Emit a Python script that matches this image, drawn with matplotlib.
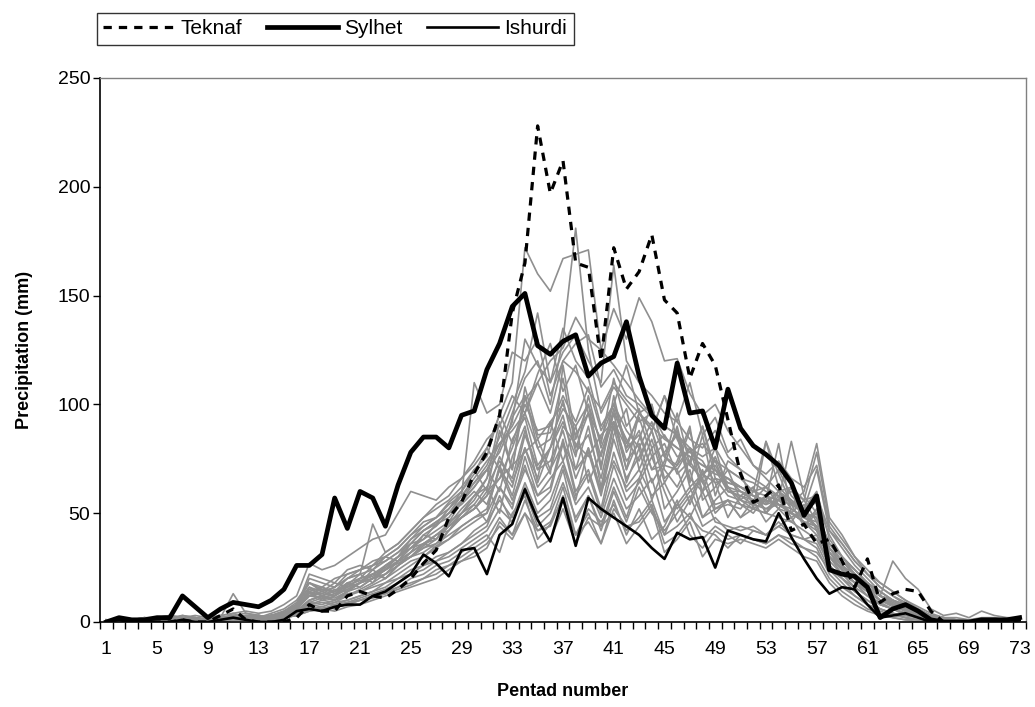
import matplotlib
matplotlib.use("Agg")
import matplotlib.pyplot as plt
import numpy as np

plt.rcParams['font.family'] = ['Liberation Sans', 'DejaVu Sans']

# --- DATA (mm per pentad) ---
pentads = list(range(1, 74))
tick_labels = list(range(1, 74, 4))

teknaf = [0, 0, 0, 0, 0, 0, 1, 0, 0, 3,
          6, 1, 0, 0, 0, 2, 8, 5, 5, 12,
          14, 12, 11, 15, 20, 27, 33, 48, 55, 68,
          78, 95, 142, 165, 228, 197, 212, 165, 163, 120,
          172, 153, 161, 178, 148, 142, 112, 128, 118, 93,
          68, 55, 58, 63, 42, 45, 36, 38, 28, 16,
          29, 9, 13, 15, 14, 5, 0, 0, 0, 0,
          0, 0, 1]

sylhet = [0, 2, 1, 1, 2, 2, 12, 7, 2, 6,
          9, 8, 7, 10, 15, 26, 26, 31, 57, 43,
          60, 57, 44, 63, 78, 85, 85, 80, 95, 97,
          116, 128, 145, 151, 127, 123, 129, 132, 113, 119,
          122, 138, 113, 95, 89, 119, 96, 97, 80, 107,
          89, 81, 77, 72, 64, 49, 58, 24, 22, 21,
          16, 2, 6, 8, 5, 1, 0, 0, 0, 1,
          1, 1, 2]

ishurdi = [0, 1, 0, 0, 0, 0, 1, 0, 0, 1,
           2, 1, 0, 0, 1, 5, 6, 5, 7, 8,
           8, 12, 14, 18, 22, 31, 27, 21, 33, 34,
           22, 40, 45, 61, 47, 37, 57, 35, 57, 52,
           48, 44, 40, 34, 29, 41, 38, 39, 25, 42,
           40, 38, 37, 50, 39, 29, 20, 13, 16, 15,
           8, 2, 3, 4, 2, 0, 0, 0, 0, 1,
           0, 1, 1]

# other stations (grey)
g01 = [0,1,0,1,2,1,3,2,1,2, 3,2,2,4,6,10,18,15,14,16, 20,22,25,30,38,42,45,52,60,68,
       80,95,110,172,160,152,167,169,171,125, 118,110,102,95,90,86,78,82,74,70,
       66,60,62,58,55,50,44,30,25,20, 14,8,6,4,3,1,0,0,1,1, 0,1,1]
g02 = [0,0,1,0,1,2,1,0,1,3, 2,1,3,2,4,6,12,14,12,18, 16,20,22,28,34,36,40,44,50,58,
       66,80,96,112,120,100,130,181,125,96, 108,100,92,96,85,80,76,72,68,66,
       60,58,55,60,52,48,50,36,28,22, 15,10,8,5,3,2,1,0,0,1, 1,0,1]
g03 = [1,0,0,1,0,1,2,1,0,2, 1,2,1,3,5,8,16,12,15,14, 18,24,20,26,32,40,38,46,55,62,
       70,78,92,130,118,110,124,132,120,110, 164,120,110,104,96,92,84,80,88,76,
       70,66,62,70,58,52,55,40,30,24, 18,12,10,8,5,3,1,1,0,1, 1,1,0]
g04 = [0,1,1,2,1,0,1,2,1,1, 2,3,2,3,4,7,14,16,13,17, 19,21,24,27,30,35,40,42,48,52,
       60,66,80,96,110,120,126,140,130,125, 144,130,149,138,120,121,105,95,100,88,
       80,72,66,60,62,56,58,42,34,26, 20,14,10,6,4,2,1,0,1,0, 0,1,1]
g05 = [1,0,1,1,2,3,2,1,0,1, 4,2,3,2,3,5,10,12,14,20, 22,18,26,30,34,38,45,48,56,64,
       72,85,100,115,142,110,135,120,112,90, 100,118,96,88,104,84,72,90,70,64,
       62,58,54,56,50,46,40,30,24,18, 12,8,6,3,2,1,0,1,0,0, 1,0,0]
g06 = [0,0,0,1,1,2,1,1,1,0, 2,1,1,2,3,6,20,18,16,22, 24,28,30,34,40,44,48,55,60,70,
       60,88,70,104,80,68,118,84,100,72, 96,70,84,100,76,72,88,64,70,60,
       58,62,50,60,54,44,52,28,22,18, 14,10,8,6,3,2,1,0,0,0, 1,1,0]
g07 = [1,1,0,0,1,1,2,2,1,1, 3,2,2,1,2,4,8,10,9,12, 15,18,22,26,30,34,36,42,50,56,
       66,92,70,108,86,87,112,80,96,70, 104,78,88,70,72,90,66,60,76,62,
       56,52,50,48,46,42,38,26,20,14, 10,6,4,2,1,0,0,1,0,1, 0,0,1]
g08 = [0,1,1,0,0,1,1,0,1,1, 1,2,2,3,3,5,9,8,10,12, 14,16,18,22,26,30,35,38,44,48,
       50,72,58,80,66,92,74,90,64,78, 92,70,96,100,76,88,64,86,58,74,
       70,52,83,68,54,60,82,48,40,30, 22,16,12,8,5,3,1,1,0,0, 1,0,1]
g09 = [0,0,1,1,0,1,2,1,2,2, 13,4,3,2,3,6,14,12,10,14, 16,20,24,28,32,36,40,45,52,58,
       62,50,76,90,64,80,95,70,90,62, 90,64,80,56,72,70,54,68,64,48,
       58,54,52,56,83,58,50,36,30,24, 18,12,8,5,4,2,1,0,0,1, 1,1,0]
g10 = [1,0,0,1,1,0,1,1,0,1, 1,1,2,2,3,5,8,7,9,10, 12,14,16,20,22,26,28,32,36,40,
       44,58,45,62,48,52,70,46,58,44, 62,48,66,52,40,54,48,60,46,44,
       42,44,40,46,40,38,34,22,16,12, 8,5,3,2,1,1,0,0,1,1, 0,1,1]
g11 = [0,1,0,0,1,2,1,0,0,1, 2,1,1,2,4,7,22,20,18,24, 26,24,30,28,36,38,42,46,50,54,
       46,62,52,76,58,62,84,60,70,52, 78,60,66,80,52,60,70,48,56,62,
       54,50,58,52,46,54,42,30,24,20, 16,12,8,6,4,2,1,1,0,0, 0,0,1]
g12 = [0,0,0,0,0,1,1,1,2,1, 2,2,1,1,2,3,6,5,7,8, 10,12,14,16,20,22,26,28,32,36,
       40,32,50,58,38,45,62,40,50,36, 56,40,52,38,44,56,40,34,42,38,
       40,38,36,40,36,34,30,20,14,10, 6,4,2,1,1,0,0,0,0,1, 1,0,0]
g13 = [1,1,1,2,1,2,3,2,1,2, 3,4,3,2,4,8,16,14,18,16, 20,22,26,30,34,40,44,50,54,60,
       54,70,62,86,70,74,88,66,80,60, 86,98,70,84,64,74,90,56,62,70,
       56,54,58,52,50,48,46,34,26,20, 14,10,7,5,3,2,1,0,0,0, 1,1,1]
g14 = [0,1,1,1,2,1,2,1,1,2, 2,2,1,3,4,6,12,16,14,18, 20,26,28,32,38,44,48,52,58,66,
       74,82,90,102,110,96,120,128,132,108, 116,104,100,94,90,86,80,76,80,70,
       66,64,60,58,56,50,48,34,28,22, 16,12,9,6,4,2,1,1,0,0, 0,1,1]
g15 = [0,0,1,0,0,0,1,0,1,0, 1,1,1,1,2,3,5,6,5,7, 8,10,12,14,16,18,20,24,28,30,
       34,46,40,50,34,38,52,36,48,44, 50,36,44,52,32,38,46,30,38,36,
       38,36,34,38,34,30,28,18,12,8, 5,3,2,1,0,0,0,0,0,1, 0,0,1]
g16 = [0,0,1,1,1,2,1,1,2,1, 2,3,2,3,5,9,18,16,20,22, 24,26,30,34,40,46,48,54,58,64,
       70,60,84,94,72,80,102,78,86,66, 92,74,82,64,74,96,72,66,80,60,
       60,56,54,60,56,52,70,42,36,28, 22,18,14,10,6,3,2,1,1,0, 1,1,1]
g17 = [1,0,1,1,0,1,1,2,1,1, 2,2,2,1,3,5,10,12,11,14, 18,20,22,26,30,32,36,40,44,48,
       52,70,56,72,54,60,82,58,68,50, 72,56,64,76,60,46,56,70,52,54,
       52,60,83,62,56,50,48,34,26,20, 16,12,10,8,5,3,1,1,1,0, 1,0,1]
g18 = [0,1,0,1,1,1,2,1,1,1, 2,1,2,2,3,6,13,15,14,17, 22,45,32,36,42,48,52,56,62,70,
       76,96,82,100,88,90,104,92,108,88, 100,82,94,76,82,68,74,90,66,64,
       62,58,56,54,52,48,44,32,26,22, 18,14,10,7,5,3,2,1,1,1, 1,1,1]
g19 = [0,0,0,1,1,1,1,0,0,1, 1,2,1,2,3,4,8,9,8,10, 12,14,18,20,24,26,30,32,36,42,
       46,56,48,64,50,56,72,54,62,48, 66,52,58,66,46,54,62,48,52,56,
       48,52,56,82,50,46,44,30,22,16, 12,8,6,4,3,1,1,0,0,0, 1,1,0]
g20 = [1,1,1,2,2,3,2,3,2,3, 4,5,4,5,8,12,27,24,26,30, 34,38,40,50,60,58,56,62,66,72,
       80,70,94,104,84,92,100,86,96,76, 98,80,86,70,78,86,62,68,74,60,
       58,56,52,54,50,46,42,30,24,18, 14,10,8,5,3,2,1,1,1,1, 1,1,1]
g21 = [0,0,0,0,1,0,0,1,0,0, 1,1,1,1,2,3,5,6,7,8, 10,12,13,16,18,20,24,26,30,34,
       38,48,40,56,42,44,58,40,46,36, 52,44,46,54,36,40,48,42,40,34,
       40,38,36,40,38,34,32,24,20,16, 18,12,28,20,15,6,3,4,2,5, 3,2,2]
g22 = [0,1,1,1,0,1,2,2,1,2, 2,3,3,2,4,7,15,13,16,20, 22,24,28,32,36,42,46,50,56,62,
       70,82,88,96,80,84,98,90,100,82, 112,90,98,80,86,76,78,74,64,66,
       62,60,58,56,54,50,48,36,30,24, 18,14,10,7,4,3,2,1,1,1, 1,1,1]
g23 = [1,1,0,1,1,1,1,1,0,1, 2,2,2,3,4,6,12,11,13,15, 18,20,24,28,32,36,38,44,48,52,
       58,76,64,80,62,70,82,70,78,58, 84,66,76,88,70,62,74,64,54,56,
       54,52,50,56,60,56,78,46,38,30, 24,18,14,10,7,4,2,2,1,2, 2,1,2]
g24 = [0,0,1,0,1,1,0,1,1,0, 1,2,1,1,2,4,7,6,8,9, 11,13,15,18,22,24,28,30,34,38,
       42,52,46,60,44,50,64,48,58,42, 60,46,62,50,42,50,58,44,48,42,
       44,42,40,44,40,38,36,24,18,12, 8,6,4,2,1,0,0,1,1,0, 0,1,1]
g25 = [0,0,1,1,1,0,1,1,1,2, 2,1,2,2,3,5,10,12,10,14, 18,22,24,30,36,42,46,50,58,110,
       96,100,124,120,130,104,120,115,106,98, 110,102,96,90,84,80,76,72,70,66,
       62,58,56,54,50,46,44,32,26,20, 16,12,8,6,4,2,1,1,0,1, 1,0,1]
g26 = [0,1,0,1,1,2,1,1,0,1, 2,1,2,3,3,6,14,10,12,16, 18,22,20,26,30,36,34,42,48,54,
       62,74,66,88,70,80,92,76,104,80, 96,84,74,88,66,72,80,60,66,58,
       56,62,50,58,48,52,60,38,30,22, 16,10,8,5,3,2,1,1,0,0, 1,0,1]
g27 = [1,0,0,0,1,1,2,1,1,2, 1,2,2,2,3,5,9,11,10,13, 14,17,20,24,28,30,34,38,42,46,
       50,62,54,70,58,66,74,56,80,60, 74,62,70,58,64,52,60,66,50,56,
       48,56,46,52,62,44,50,32,24,18, 12,9,6,4,2,1,1,0,0,1, 0,1,0]
g28 = [0,0,1,1,2,1,1,2,1,1, 3,2,2,3,4,8,18,14,16,20, 24,26,32,36,42,48,54,58,66,74,
       84,90,104,96,114,128,106,118,96,84, 100,88,80,92,76,70,80,68,72,62,
       60,56,62,54,50,56,46,34,28,22, 16,12,9,6,4,2,1,1,1,0, 1,1,1]
g29 = [0,0,0,1,0,1,1,1,0,1, 1,1,1,2,2,3,6,7,6,9, 10,11,13,15,17,20,22,26,28,32,
       36,44,38,50,42,46,56,40,52,46, 54,42,48,56,40,44,50,38,44,40,
       36,42,40,44,48,38,40,26,20,14, 10,6,4,3,2,1,0,1,0,0, 1,0,1]
g30 = [1,1,0,1,1,2,2,1,1,1, 2,2,3,2,4,6,12,13,12,15, 18,20,24,28,30,34,38,44,48,52,
       58,66,72,78,84,70,90,82,76,86, 92,80,96,88,104,92,110,86,94,78,
       84,72,68,74,66,62,72,44,36,28, 22,16,12,9,6,3,2,1,1,1, 1,1,1]

others = [g01, g02, g03, g04, g05, g06, g07, g08, g09, g10,
          g11, g12, g13, g14, g15, g16, g17, g18, g19, g20,
          g21, g22, g23, g24, g25, g26, g27, g28, g29, g30]

# --- FIGURE ---
fig = plt.figure(figsize=(10.35, 7.07), dpi=100)
ax = fig.add_axes([100 / 1035, 1 - 622 / 707, 926 / 1035, 544 / 707])

for s in others:
    ax.plot(pentads, s, color='#8f8f8f', lw=1.2, zorder=2)

ax.plot(pentads, ishurdi, color='black', lw=1.9, zorder=3, label='Ishurdi')
ax.plot(pentads, teknaf, color='black', lw=2.3, ls=(0, (2.6, 2.2)), zorder=4, label='Teknaf')
ax.plot(pentads, sylhet, color='black', lw=3.4, zorder=5, label='Sylhet')

ax.set_xlim(0.5, 73.5)
ax.set_ylim(0, 250)
ax.set_yticks(range(0, 251, 50))
ax.set_xticks(tick_labels)
ax.set_xticks(np.arange(0.5, 74, 1), minor=True)
ax.tick_params(axis='x', which='major', length=0, pad=14, labelsize=14)
ax.tick_params(axis='x', which='minor', length=5, width=1, direction='out')
ax.tick_params(axis='y', which='major', length=5, width=1, direction='out', labelsize=14, pad=2)

for side in ['top', 'right']:
    ax.spines[side].set_color('#808080')
    ax.spines[side].set_linewidth(1)
for side in ['left', 'bottom']:
    ax.spines[side].set_color('black')
    ax.spines[side].set_linewidth(1.2)

ax.set_xlabel('Pentad number', fontsize=13, fontweight='bold', labelpad=18)
ax.set_ylabel('Precipitation (mm)', fontsize=13, fontweight='bold', labelpad=18)

handles, labels = ax.get_legend_handles_labels()
order = [labels.index('Teknaf'), labels.index('Sylhet'), labels.index('Ishurdi')]
leg = fig.legend([handles[i] for i in order], [labels[i] for i in order],
                 loc='upper left', bbox_to_anchor=(97 / 1035, 1 - 13 / 707),
                 ncol=3, fontsize=15, frameon=True, fancybox=False,
                 edgecolor='black', borderaxespad=0, borderpad=0.3,
                 handlelength=3.4, handletextpad=0.3, columnspacing=1.2)
leg.get_frame().set_linewidth(1)

fig.savefig('out.png', dpi=100)
